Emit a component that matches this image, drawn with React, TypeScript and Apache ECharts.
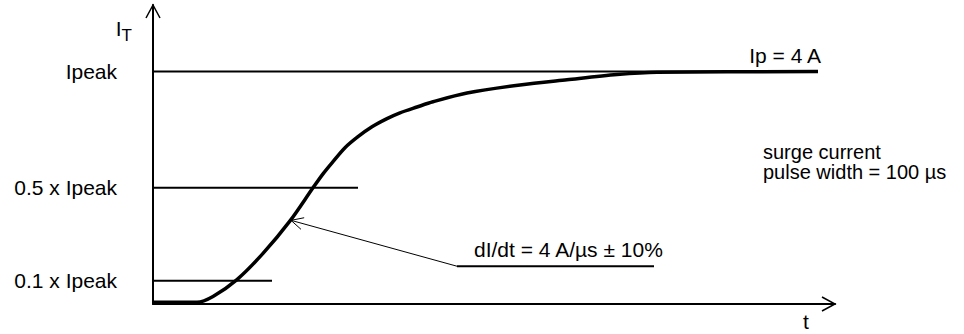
import { useEffect, useRef } from "react";
import * as echarts from "echarts";

const FONT = "'Liberation Sans', Arial, Helvetica, sans-serif";
const FONT_SIZE = 21;

// Rising edge of the surge current I_T(t) (time scale arbitrary, current in A)
const timeAxis = [
  0, 0.44, 0.6, 0.84, 1.1, 1.37, 1.6, 1.7, 1.8, 1.92, 2.05, 2.19, 2.34, 2.47, 2.64, 2.8, 3.14, 3.67, 4.14, 4.64, 5.04, 6.65,
];
const currentA = [
  0.03, 0.03, 0.13, 0.42, 0.87, 1.43, 2.0, 2.24, 2.45, 2.69, 2.88, 3.05, 3.19, 3.29, 3.39, 3.48, 3.63, 3.77, 3.86, 3.95, 3.99, 4.0,
];

// Reference levels as fractions of the peak current
const peakCurrent = 4;
const levelFractions = [1, 0.5, 0.1];
const levelLabels = ["Ipeak", "0.5 x Ipeak", "0.1 x Ipeak"];
const levelStart = -0.24;
const levelEnds = [6.65, 2.05, 1.19];

// Axis extents
const tMax = 6.82;
const iMax = 5.146;

// Slope annotation: arrow tip on the curve, leader to the underlined note
const slopeTip = [1.38, 1.44];
const slopeNoteStart = [3.04, 0.65];
const slopeNoteEnd = [5.01, 0.65];
const slopeText = "dI/dt = 4 A/\u00b5s \u00b1 10%";
const pulseText = "surge current\npulse width = 100 \u00b5s";

export default function App() {
  const ref = useRef<HTMLDivElement>(null);

  useEffect(() => {
    if (!ref.current) return;
    const chart = echarts.init(ref.current, undefined, { renderer: "svg" });

    const levelValues = levelFractions.map((f) => f * peakCurrent);
    const black = "#000";

    const levelSeries = levelValues.map((v, i) => ({
      type: "line",
      name: levelLabels[i],
      clip: false,
      silent: true,
      symbol: "circle",
      symbolSize: 0,
      showSymbol: true,
      lineStyle: { color: black, width: 2 },
      itemStyle: { color: black },
      data: [
        [levelStart, v],
        i === 0
          ? {
              value: [levelEnds[i], v],
              label: {
                show: true,
                formatter: `Ip = ${peakCurrent} A`,
                position: "top",
                align: "right",
                offset: [3, -1],
                color: black,
                fontFamily: FONT,
                fontSize: FONT_SIZE,
              },
            }
          : [levelEnds[i], v],
      ],
    }));

    const arrowTips = [[tMax, 0], [0, iMax], slopeTip];
    const arrowFrom = [[tMax - 1, 0], [0, iMax - 1], slopeNoteStart];

    chart.setOption({
      animation: false,
      backgroundColor: "#fff",
      textStyle: { fontFamily: FONT },
      grid: { left: 153, right: 129, top: 5, bottom: 30 },
      xAxis: {
        type: "value",
        min: 0,
        max: tMax,
        name: "t",
        nameLocation: "end",
        nameGap: -29,
        nameTextStyle: {
          color: black,
          fontFamily: FONT,
          fontSize: FONT_SIZE,
          align: "center",
          verticalAlign: "top",
          padding: [7, 0, 0, 0],
        },
        axisLine: { show: true, onZero: true, lineStyle: { color: black, width: 2 } },
        axisTick: { show: false },
        axisLabel: { show: false },
        splitLine: { show: false },
      },
      yAxis: {
        type: "value",
        min: 0,
        max: iMax,
        name: "{i|I}{t|T}",
        nameLocation: "end",
        nameGap: -13,
        nameTextStyle: {
          color: black,
          align: "right",
          verticalAlign: "top",
          padding: [0, 21, 0, 0],
          rich: {
            i: { fontFamily: FONT, fontSize: FONT_SIZE, lineHeight: 20, verticalAlign: "top", color: black },
            t: { fontFamily: FONT, fontSize: 17, lineHeight: 34, color: black },
          },
        },
        axisLine: { show: true, lineStyle: { color: black, width: 2 } },
        axisTick: { show: false },
        splitLine: { show: false },
        axisLabel: {
          show: true,
          customValues: levelValues,
          margin: 36,
          color: black,
          fontFamily: FONT,
          fontSize: FONT_SIZE,
          formatter: (v: number) => {
            const idx = levelValues.findIndex((lv) => Math.abs(lv - v) < 1e-9);
            return idx >= 0 ? levelLabels[idx] : "";
          },
        },
      },
      graphic: [
        {
          type: "text",
          left: 763,
          top: 142,
          style: {
            text: pulseText,
            font: `${FONT_SIZE - 1}px ${FONT}`,
            fill: black,
            lineHeight: 20,
          },
        },
      ],
      series: [
        {
          type: "line",
          name: "I_T",
          data: timeAxis.map((t, i) => [t, currentA[i]]),
          symbol: "none",
          smooth: 0.3,
          clip: false,
          silent: true,
          lineStyle: { color: black, width: 3.5 },
          z: 3,
        },
        ...levelSeries,
        {
          type: "line",
          name: "leader",
          data: [slopeTip, slopeNoteStart],
          symbol: "none",
          clip: false,
          silent: true,
          lineStyle: { color: black, width: 1 },
        },
        {
          type: "line",
          name: "note",
          clip: false,
          silent: true,
          symbol: "circle",
          symbolSize: 0,
          itemStyle: { color: black },
          lineStyle: { color: black, width: 2 },
          data: [
            {
              value: slopeNoteStart,
              label: {
                show: true,
                formatter: slopeText,
                position: "top",
                align: "left",
                offset: [17, -1],
                color: black,
                fontFamily: FONT,
                fontSize: FONT_SIZE,
              },
            },
            slopeNoteEnd,
          ],
        },
        {
          type: "custom",
          name: "arrows",
          clip: false,
          silent: true,
          data: arrowTips.map((p, i) => [p[0], p[1], arrowFrom[i][0], arrowFrom[i][1]]),
          renderItem: (params: any, api: any) => {
            const tip = api.coord([api.value(0), api.value(1)]);
            const from = api.coord([api.value(2), api.value(3)]);
            const ang = Math.atan2(tip[1] - from[1], tip[0] - from[0]);
            const ux = Math.cos(ang);
            const uy = Math.sin(ang);
            const onAxis = params.dataIndex < 2;
            const len = onAxis ? 13 : 12;
            const half = onAxis ? 7 : 6;
            const bx = tip[0] - ux * len;
            const by = tip[1] - uy * len;
            return {
              type: "polyline",
              shape: {
                points: [
                  [bx - uy * half, by + ux * half],
                  tip,
                  [bx + uy * half, by - ux * half],
                ],
              },
              style: { stroke: black, lineWidth: onAxis ? 1.5 : 1, fill: null },
            };
          },
        },
      ],
    });

    return () => chart.dispose();
  }, []);

  return (
    <div
      ref={ref}
      style={{ position: "fixed", left: 0, top: 0, width: 964, height: 334, background: "#fff" }}
    />
  );
}
